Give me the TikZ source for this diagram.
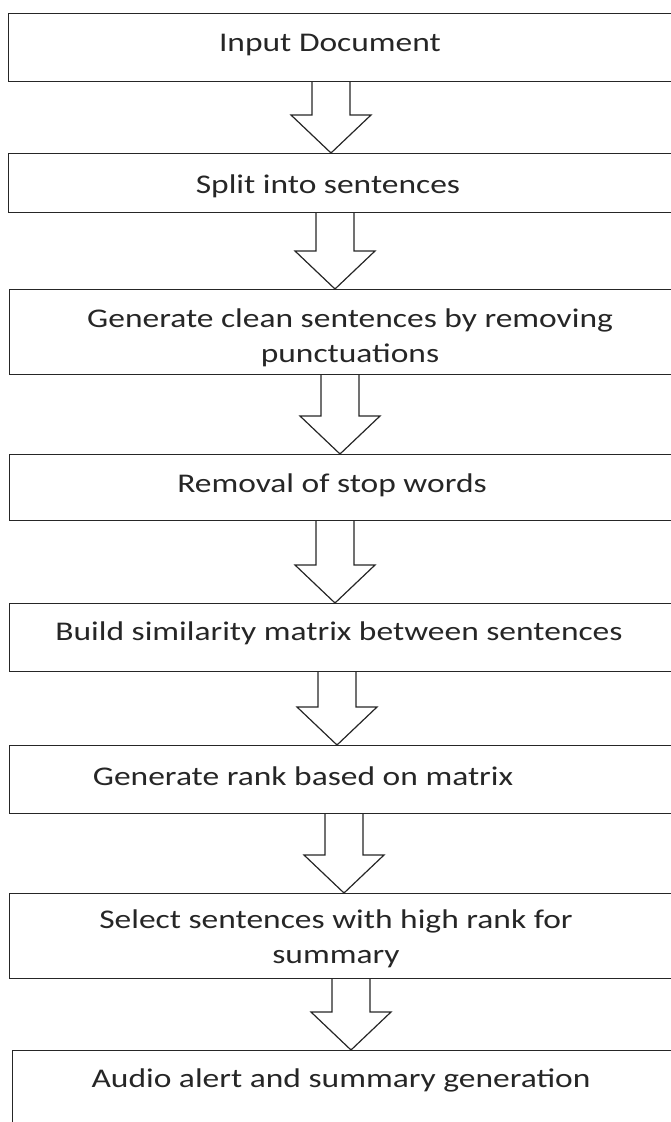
\documentclass[tikz,border=0pt]{standalone}
\usepackage{fontspec}
\setmainfont{Carlito}[FakeStretch=1.24]
\usepackage{tikz}
\usetikzlibrary{calc}
\usetikzlibrary{backgrounds}

\begin{document}
\begin{tikzpicture}[x=1pt,y=1pt,
	stepbox/.style={draw=black!85, line width=1.2pt, minimum width=680pt, anchor=north west, inner sep=0pt},
	steptext/.style={font=\fontsize{27}{35}\selectfont, align=center, text=black!85},
	hollow/.style={draw=black!85, line width=1.2pt, fill=white, line join=miter}]
	\useasboundingbox (0,0) rectangle (671,-1122);
	% boxes
	\node[stepbox, minimum height=68pt] (b1) at (8,-13) {};
	\node[stepbox, minimum height=59pt] (b2) at (8,-153) {};
	\node[stepbox, minimum height=85pt] (b3) at (9,-289) {};
	\node[stepbox, minimum height=66pt] (b4) at (9,-454) {};
	\node[stepbox, minimum height=68pt] (b5) at (9,-603) {};
	\node[stepbox, minimum height=68pt] (b6) at (9,-745) {};
	\node[stepbox, minimum height=85pt] (b7) at (9,-893) {};
	\node[stepbox, minimum height=90pt] (b8) at (12,-1050) {};
	% texts
	\node[steptext] (t1) at (330,-45) {Input Document};
	\node[steptext] (t2) at (328,-186) {Split into sentences};
	\node[steptext] (t3) at (350,-338) {Generate clean sentences by removing\\punctuations};
	\node[steptext] (t4) at (332,-485) {Removal of stop words};
	\node[steptext] (t5) at (339,-633) {Build similarity matrix between sentences};
	\node[steptext] (t6) at (303,-776) {Generate rank based on matrix};
	\node[steptext] (t7) at (336,-939) {Select sentences with high rank for\\summary};
	\node[steptext] (t8) at (341,-1080) {Audio alert and summary generation};
	% block arrows
	\begin{scope}[on background layer]
	\foreach \a/\b/\cx in {b1/b2/331, b2/b3/335, b3/b4/340, b4/b5/335, b5/b6/337, b6/b7/344, b7/b8/351}
	{
		\coordinate (top) at (\a.south -| \cx,0);
		\coordinate (tip) at (\b.north -| \cx,0);
		\draw[hollow] ($(top)+(-19,0)$) -- ($(tip)+(-19,38)$) -- ($(tip)+(-40,38)$) -- (tip)
			-- ($(tip)+(40,38)$) -- ($(tip)+(19,38)$) -- ($(top)+(19,0)$);
	}
	\end{scope}
\end{tikzpicture}
\end{document}
